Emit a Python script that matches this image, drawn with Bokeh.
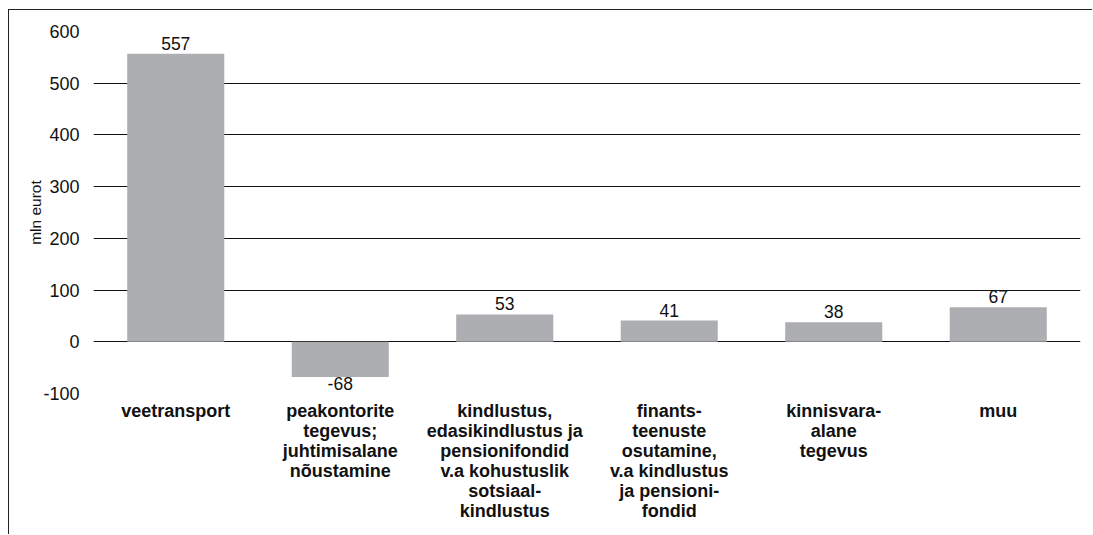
from bokeh.plotting import figure
from bokeh.models import Range1d, FixedTicker, ColumnDataSource
from bokeh.embed import file_html
from bokeh.resources import INLINE
from bokeh.core.properties import value

categories = [
    "veetransport",
    "peakontorite\ntegevus;\njuhtimisalane\nnõustamine",
    "kindlustus,\nedasikindlustus ja\npensionifondid\nv.a kohustuslik\nsotsiaal-\nkindlustus",
    "finants-\nteenuste\nosutamine,\nv.a kindlustus\nja pensioni-\nfondid",
    "kinnisvara-\nalane\ntegevus",
    "muu",
]
values = [557, -68, 53, 41, 38, 67]
y_ticks = [-100, 0, 100, 200, 300, 400, 500, 600]
y_tick_labels = {t: str(t) for t in y_ticks}

FONT = "Liberation Sans"

p = figure(
    x_range=categories,
    y_range=Range1d(-100, 600),
    width=1084,
    height=525,
    output_backend="svg",
    toolbar_location=None,
    min_border_left=84,
    min_border_right=13,
    min_border_top=21,
    min_border_bottom=142,
)
p.styles = {"border-left": "1px solid #222", "border-top": "1px solid #222",
            "margin-left": "8px", "margin-top": "9px"}
p.outline_line_color = None
p.background_fill_color = "white"
p.border_fill_color = "white"

src = ColumnDataSource(dict(cat=categories, val=values))
p.vbar(x="cat", top="val", bottom=0, width=0.59, source=src,
       fill_color="#adaeb1", line_color=None)

pos = ColumnDataSource(dict(cat=[c for c, v in zip(categories, values) if v >= 0],
                            val=[v for v in values if v >= 0],
                            lbl=[str(v) for v in values if v >= 0]))
neg = ColumnDataSource(dict(cat=[c for c, v in zip(categories, values) if v < 0],
                            val=[v for v in values if v < 0],
                            lbl=[str(v) for v in values if v < 0]))
p.text(x="cat", y="val", text="lbl", source=pos, text_align="center",
       text_baseline="bottom", y_offset=-4, text_font=value(FONT),
       text_font_size="17.5px", text_color="#111")
p.text(x="cat", y="val", text="lbl", source=neg, text_align="center",
       text_baseline="top", y_offset=0, text_font=value(FONT),
       text_font_size="17.5px", text_color="#111")

p.xgrid.grid_line_color = None
p.ygrid.grid_line_color = "#111"
p.ygrid.grid_line_width = 1.2
p.yaxis.ticker = FixedTicker(ticks=y_ticks)
p.yaxis.major_label_overrides = y_tick_labels
p.yaxis.axis_line_color = None
p.yaxis.major_tick_line_color = None
p.yaxis.minor_tick_line_color = None
p.yaxis.major_label_standoff = 8
p.yaxis.major_label_text_font = FONT
p.yaxis.major_label_text_font_size = "18px"
p.yaxis.major_label_text_color = "#111"
p.yaxis.axis_label = "mln eurot"
p.yaxis.axis_label_text_font = FONT
p.yaxis.axis_label_text_font_size = "15.5px"
p.yaxis.axis_label_text_font_style = "normal"
p.yaxis.axis_label_text_color = "#111"
p.yaxis.axis_label_standoff = -4

p.xaxis.axis_line_color = None
p.xaxis.major_tick_line_color = None
p.xaxis.minor_tick_line_color = None
p.xaxis.major_label_standoff = 1
p.xaxis.major_label_text_font = FONT
p.xaxis.major_label_text_font_size = "18px"
p.xaxis.major_label_text_font_style = "bold"
p.xaxis.major_label_text_line_height = 1.0
p.xaxis.major_label_text_color = "#111"
p.xaxis.major_label_orientation = "horizontal"

open("out.html", "w").write(file_html(p, INLINE))
